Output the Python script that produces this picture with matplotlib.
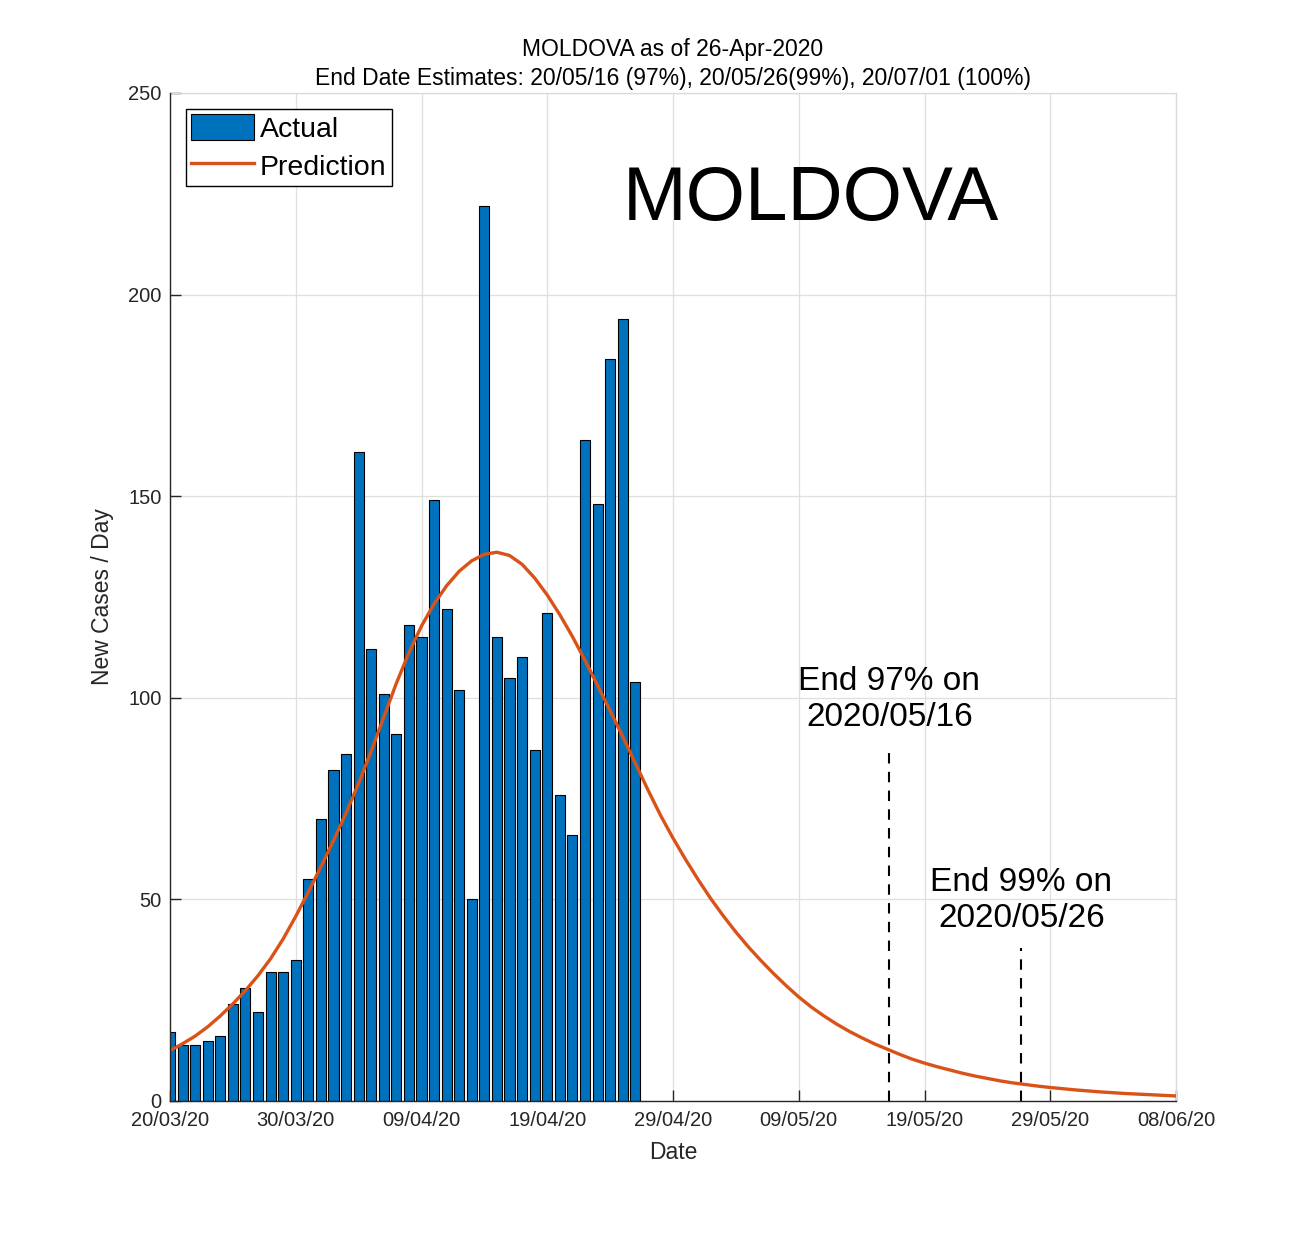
import matplotlib
matplotlib.use("Agg")
import matplotlib.pyplot as plt
import matplotlib.dates as mdates
import numpy as np
import datetime as dt

plt.rcParams['font.family'] = ['Liberation Sans', 'DejaVu Sans']

# ---------------- data ----------------
start_date = dt.date(2020, 3, 20)
actual_cases = [17, 14, 14, 15, 16, 24, 28, 22, 32, 32,
                35, 55, 70, 82, 86, 161, 112, 101, 91, 118,
                115, 149, 122, 102, 50, 222, 115, 105, 110, 87,
                121, 76, 66, 164, 148, 184, 194, 104]
prediction = [12.5, 14.2, 16.1, 18.4, 21.1, 24.1, 27.4, 31.1, 35.3, 40.2,
              45.8, 51.8, 58.1, 64.6, 71.4, 78.8, 86.8, 95.2, 103.6, 111.2,
              117.8, 123.3, 127.8, 131.4, 134.0, 135.6, 136.1, 135.3, 133.1, 129.7,
              125.5, 120.6, 115.2, 109.3, 103.1, 96.8, 90.4, 83.8, 77.2, 70.9,
              65.2, 59.9, 54.9, 50.2, 45.9, 41.9, 38.2, 34.8, 31.6, 28.6,
              25.8, 23.3, 21.1, 19.1, 17.3, 15.7, 14.2, 12.9, 11.6, 10.4,
              9.4, 8.5, 7.7, 6.9, 6.2, 5.6, 5.0, 4.5, 4.1, 3.7,
              3.35, 3.05, 2.75, 2.5, 2.25, 2.05, 1.85, 1.7, 1.55, 1.4, 1.25]
end_labels = ["End 97% on\n2020/05/16", "End 99% on\n2020/05/26"]
end_day_offsets = [57.2, 67.7]
end_line_tops = [87.5, 38.0]
end_text_y = [99.5, 49.8]
title_lines = ["MOLDOVA as of 26-Apr-2020",
               "End Date Estimates: 20/05/16 (97%), 20/05/26(99%), 20/07/01 (100%)"]
tick_days = [0, 10, 20, 30, 40, 50, 60, 70, 80]
y_ticks = [0, 50, 100, 150, 200, 250]

# ---------------- plot ----------------
base = mdates.date2num(start_date)
x_actual = base + np.arange(len(actual_cases))
x_pred = base + np.arange(len(prediction))

fig = plt.figure(figsize=(13, 12.37), dpi=100)
ax = fig.add_axes([170/1300, 1 - 1101/1237, (1176-170)/1300, (1101-93)/1237])

bars = ax.bar(x_actual, actual_cases, width=0.8, color='#0072BD', edgecolor='black',
              linewidth=0.8, label='Actual', zorder=2)
line, = ax.plot(x_pred, prediction, color='#D95319', linewidth=2.4, label='Prediction',
                zorder=3, solid_joinstyle='round')

for off, top, lab, ty in zip(end_day_offsets, end_line_tops, end_labels, end_text_y):
    ax.plot([base + off, base + off], [0, top], color='black', linestyle='--',
            linewidth=1.5, dashes=(5, 4), zorder=4)
    ax.text(base + off, ty, lab, ha='center', va='center', fontsize=24,
            linespacing=1.2, color='black', zorder=5)

ax.text(base + 51, 218.5, "MOLDOVA", ha='center', va='baseline', fontsize=55, color='black')

ax.set_xlim(base, base + 80)
ax.set_ylim(0, 250)
ax.set_xticks([base + d for d in tick_days])
ax.xaxis.set_major_formatter(mdates.DateFormatter('%d/%m/%y'))
ax.set_yticks(y_ticks)

ax.grid(True, color='#DFDFDF', linewidth=0.9, zorder=0)
ax.set_axisbelow(True)
for s in ['top', 'right']:
    ax.spines[s].set_color('#DADADA')
    ax.spines[s].set_linewidth(0.9)
for s in ['left', 'bottom']:
    ax.spines[s].set_color('#262626')
    ax.spines[s].set_linewidth(1.0)
    ax.spines[s].set_zorder(6)

ax.tick_params(axis='both', direction='in', length=8, width=1.0, colors='#262626',
               labelsize=14.5, top=False, right=False)
ax.tick_params(axis='x', pad=7)
ax.tick_params(axis='y', pad=6)

ax.set_xlabel("Date", fontsize=16.5, color='#262626', labelpad=8)
ax.set_ylabel("New Cases / Day", fontsize=16.5, color='#262626', labelpad=10)
ax.set_title("\n".join(title_lines), fontsize=16.5, linespacing=1.3, color='black', pad=6)

leg = ax.legend([bars, line], ['Actual', 'Prediction'],
                loc='upper left', bbox_to_anchor=(16/1006, 1 - 16/1008), fontsize=20.5,
                frameon=True, fancybox=False, edgecolor='black', framealpha=1,
                handlelength=2.2, handleheight=1.0, handletextpad=0.22,
                labelspacing=0.33, borderpad=0.18, borderaxespad=0)
leg.get_frame().set_linewidth(1.0)

fig.savefig("out.png", dpi=100, facecolor='white')
